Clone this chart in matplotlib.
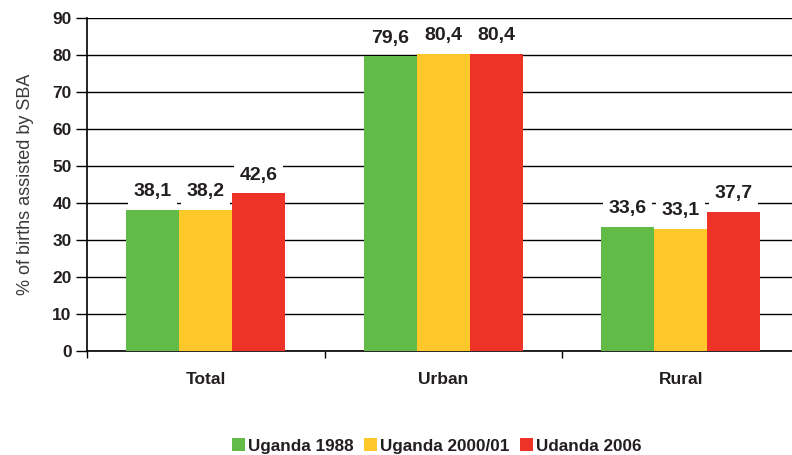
import numpy as np
import matplotlib
matplotlib.use('Agg')
import matplotlib.pyplot as plt

# data
categories = ['Total', 'Urban', 'Rural']
series = ['Uganda 1988', 'Uganda 2000/01', 'Udanda 2006']
v1988 = [38.1, 79.6, 33.6]
v2000 = [38.2, 80.4, 33.1]
v2006 = [42.6, 80.4, 37.7]
values = [v1988, v2000, v2006]
colors = ['#62bb46', '#ffc82a', '#ee3228']
txt = '#231f20'

plt.rcParams['font.family'] = ['Liberation Sans', 'DejaVu Sans']

fig = plt.figure(figsize=(7.92, 4.55), dpi=100)
ax = fig.add_axes([87 / 792, 1 - 351 / 455, 712.5 / 792, 333 / 455])

x = np.arange(len(categories))
w = 0.223
for i, vals in enumerate(values):
    pos = x + (i - 1) * w
    ax.bar(pos, vals, w, color=colors[i], label=series[i], zorder=3)
    for p, v in zip(pos, vals):
        ax.text(p, v + 2.6, ('%.1f' % v).replace('.', ','), ha='center', va='bottom',
                fontsize=14, fontweight='bold', color=txt, zorder=4,
                bbox=dict(facecolor='white', edgecolor='none', pad=4))

ax.set_xlim(-0.5, 2.5)
ax.set_ylim(0, 90)
ax.set_yticks(range(0, 91, 10))
ax.yaxis.grid(True, color='black', linewidth=1, zorder=0)
ax.set_axisbelow(True)
ax.set_xticks(x)
ax.set_xticklabels(categories, fontsize=12.5, fontweight='bold', color=txt)
ax.set_xticks([-0.5, 0.5, 1.5, 2.5], minor=True)
ax.tick_params(axis='x', which='major', length=0, pad=15)
ax.tick_params(axis='x', which='minor', length=5, width=1, direction='out')
ax.tick_params(axis='y', length=8, width=1, labelsize=12.5, labelcolor=txt, pad=3)
for lab in ax.get_yticklabels():
    lab.set_fontweight('bold')
for s in ['top', 'right']:
    ax.spines[s].set_visible(False)
for s in ['left', 'bottom']:
    ax.spines[s].set_linewidth(1.2)
    ax.spines[s].set_color('black')

ax.set_ylabel('% of births assisted by SBA', fontsize=13, color='#3a3a3c', labelpad=13)

fig.legend(loc='center', bbox_to_anchor=(437 / 792, 1 - 446 / 455), ncol=3, frameon=False,
           prop={'weight': 'bold', 'size': 12.3}, handlelength=0.75, handleheight=0.75,
           handletextpad=0.2, columnspacing=0.6, labelcolor=txt)

fig.savefig('out.png', dpi=100)
